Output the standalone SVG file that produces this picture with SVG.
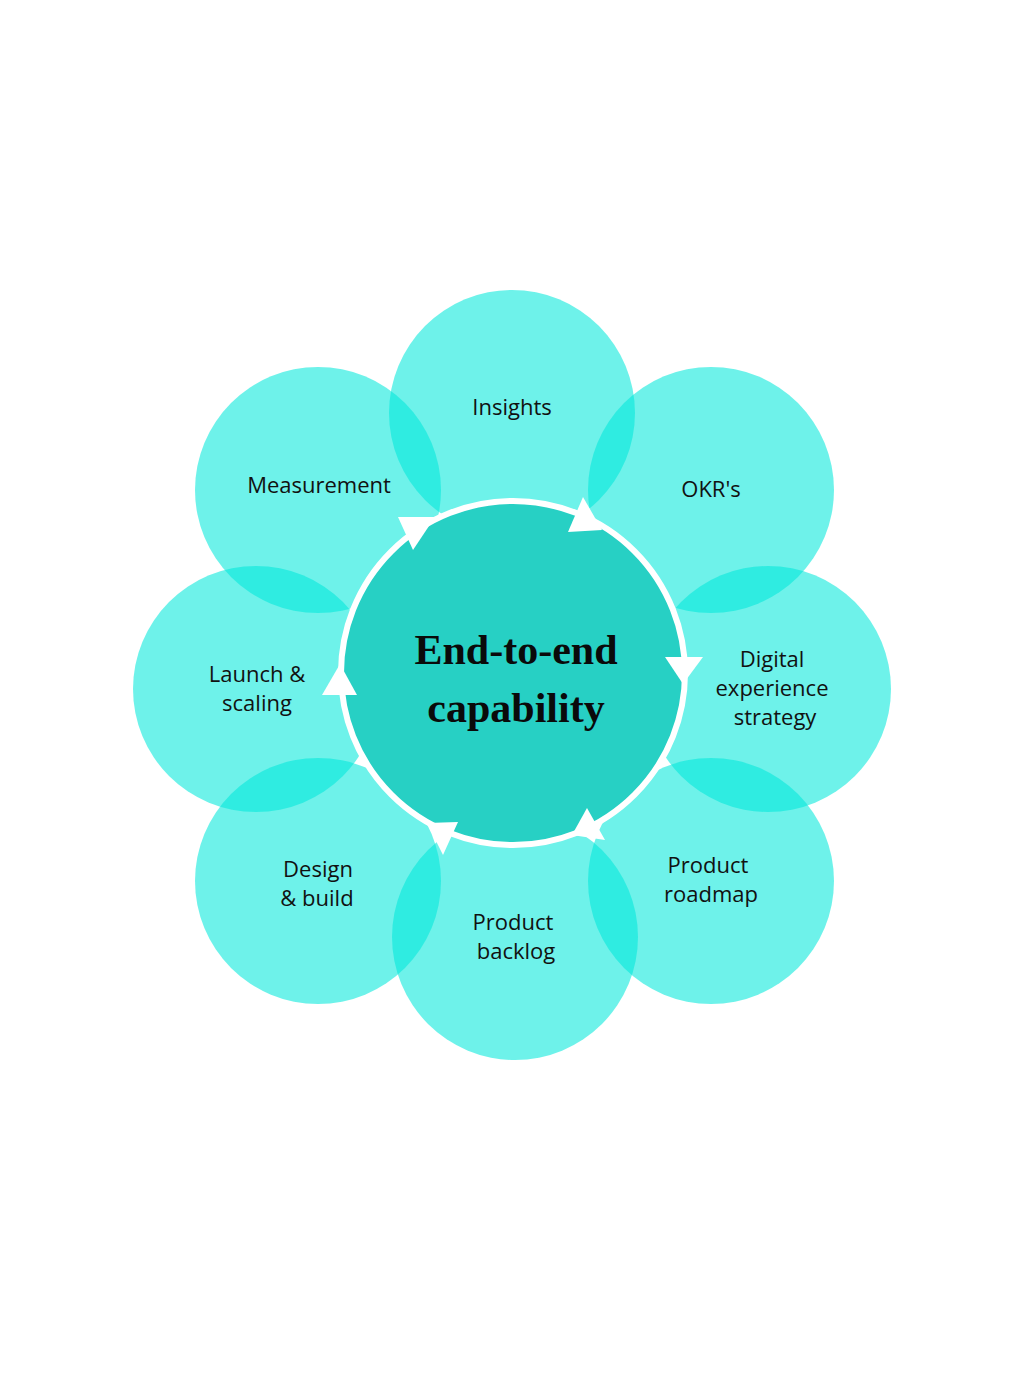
<svg xmlns="http://www.w3.org/2000/svg" width="1024" height="1375" viewBox="0 0 1024 1375">
<style>
.petal{fill:#00E8DA;fill-opacity:0.57}
.lbl{font-family:"Open Sans","Liberation Sans",sans-serif;font-size:22px;fill:#111;text-anchor:middle}
.ctr{font-family:"Liberation Serif","DejaVu Serif",serif;font-weight:bold;font-size:42px;fill:#0a0a0a;text-anchor:middle}
.arrow{fill:#fff}
</style>
<rect width="1024" height="1375" fill="#fff"/>
<g id="node-insights"><circle class="petal" cx="512" cy="413" r="123"/><text class="lbl" x="512" y="415">Insights</text></g>
<g id="node-okrs"><circle class="petal" cx="711" cy="490" r="123"/><text class="lbl" x="711" y="497">OKR's</text></g>
<g id="node-digital"><circle class="petal" cx="768" cy="689" r="123"/><text class="lbl" x="772" y="667">Digital</text><text class="lbl" x="772" y="696">experience</text><text class="lbl" x="775" y="725">strategy</text></g>
<g id="node-roadmap"><circle class="petal" cx="711" cy="881" r="123"/><text class="lbl" x="708" y="873">Product</text><text class="lbl" x="711" y="902">roadmap</text></g>
<g id="node-backlog"><circle class="petal" cx="515" cy="937" r="123"/><text class="lbl" x="513" y="930">Product</text><text class="lbl" x="516" y="959">backlog</text></g>
<g id="node-design"><circle class="petal" cx="318" cy="881" r="123"/><text class="lbl" x="318" y="877">Design</text><text class="lbl" x="317" y="906">&amp; build</text></g>
<g id="node-launch"><circle class="petal" cx="256" cy="689" r="123"/><text class="lbl" x="257" y="682">Launch &amp;</text><text class="lbl" x="257" y="711">scaling</text></g>
<g id="node-measurement"><circle class="petal" cx="318" cy="490" r="123"/><text class="lbl" x="319" y="493">Measurement</text></g>
<g id="node-center"><circle cx="513" cy="673" r="172" fill="#27D0C4" stroke="#fff" stroke-width="6"/><text class="ctr" x="516" y="664">End-to-end</text><text class="ctr" x="516" y="722">capability</text></g>
<g id="connectors">
<polygon class="arrow" points="435,517 398,517 413,550"/>
<polygon class="arrow" points="602,530 583,497 568,532"/>
<polygon class="arrow" points="683,684 665,657 703,657"/>
<polygon class="arrow" points="340,664 322,695 357,695"/>
<polygon class="arrow" points="427,823 458,822 443,855"/>
<polygon class="arrow" points="572,835 587,808 605,840"/>
</g>
</svg>
